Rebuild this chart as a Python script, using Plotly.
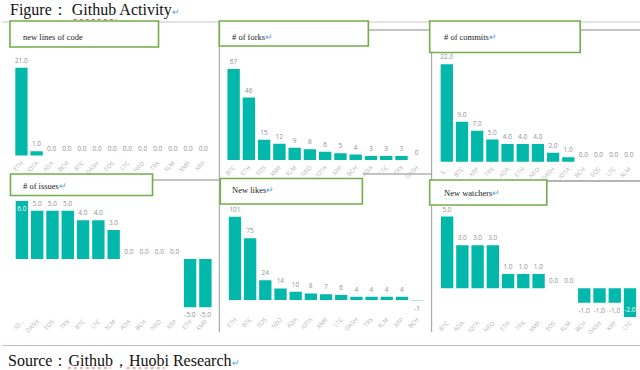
import plotly.graph_objects as go

W, H = 640, 370

# ---------------- data ----------------
code_cats = ["ETH", "IOTA", "ADA", "BCH", "BTC", "DASH", "EOS", "LTC", "NEO", "TRX", "XLM", "XMR", "XRP"]
code_vals = [21, 1, 0, 0, 0, 0, 0, 0, 0, 0, 0, 0, 0]

forks_cats = ["BTC", "ETH", "EOS", "XMR", "XLM", "NEO", "IOTA", "XRP", "BCH", "ADA", "LTC", "TRX", "DASH"]
forks_vals = [67, 46, 15, 12, 9, 8, 6, 5, 4, 3, 3, 3, 0]

commits_cats = ["S...", "BTC", "XRP", "TRX", "ADA", "ETH", "NEO", "DASH", "IOTA", "BCH", "EOS", "LTC", "XLM"]
commits_vals = [22, 9, 7, 5, 4, 4, 4, 2, 1, 0, 0, 0, 0]

issues_cats = ["IO...", "DASH", "EOS", "TRX", "BTC", "LTC", "XLM", "ADA", "BCH", "NEO", "XRP", "ETH", "XMR"]
issues_vals = [6, 5, 5, 5, 4, 4, 3, 0, 0, 0, 0, -5, -5]

likes_cats = ["ETH", "BTC", "EOS", "NEO", "ADA", "IOTA", "XMR", "LTC", "DASH", "TRX", "XLM", "XRP", "BCH"]
likes_vals = [101, 75, 24, 14, 10, 8, 7, 6, 4, 4, 4, 4, -1]

watch_cats = ["BTC", "ADA", "IOTA", "NEO", "ETH", "TRX", "XMR", "EOS", "XLM", "BCH", "DASH", "XRP", "LTC"]
watch_vals = [5, 3, 3, 3, 1, 1, 1, 0, 0, -1, -1, -1, -2]

panel_titles = ["new lines of code", "# of forks", "# of commits",
                "# of issues", "New likes", "New watchers"]

# ---------------- helpers ----------------
def fx(x):
    return x / W

def fy(y):
    return 1 - y / H

TEAL = "#01B8AA"
LIGHT = "#A8E6E0"
GREEN = "#72AE48"
GRAY_LINE = "#9a9a9a"
BLUE = "#5B9BD5"

# pixel layout for each panel: x-left, x-right, zero-line y, px per unit, top y, bottom y
panels = [
    dict(cats=code_cats, vals=code_vals, dec=1, x0=11.9, x1=209.6, zero=155.5, scale=87.8 / 21, top=60, bot=157.5),
    dict(cats=forks_cats, vals=forks_vals, dec=0, x0=224.7, x1=423.7, zero=160, scale=91 / 67, top=60, bot=162),
    dict(cats=commits_cats, vals=commits_vals, dec=1, x0=438.6, x1=636.6, zero=161.7, scale=97.4 / 22, top=58, bot=163.5),
    dict(cats=issues_cats, vals=issues_vals, dec=1, x0=12.3, x1=211.7, zero=259, scale=58 / 6, top=196, bot=316),
    dict(cats=likes_cats, vals=likes_vals, dec=0, x0=226.1, x1=424.0, zero=300, scale=83.3 / 101, top=205, bot=314),
    dict(cats=watch_cats, vals=watch_vals, dec=1, x0=438.9, x1=637.6, zero=288.3, scale=71.7 / 5, top=206, bot=317.5),
]

fig = go.Figure()
layout_axes = {}

for i, p in enumerate(panels):
    n = i + 1
    xa = "x" if n == 1 else f"x{n}"
    ya = "y" if n == 1 else f"y{n}"
    texts = [f"{v:.{p['dec']}f}" for v in p["vals"]]
    positions = []
    colors = []
    for j, v in enumerate(p["vals"]):
        if (n == 4 and j == 0) or (n == 6 and v == min(p["vals"])):
            positions.append("inside")
        else:
            positions.append("outside")
        colors.append(LIGHT if (n == 5 and v < 0) else TEAL)
    fig.add_trace(go.Bar(
        x=p["cats"], y=p["vals"], xaxis=xa, yaxis=ya,
        marker=dict(color=colors, line=dict(width=0)),
        text=texts, textposition=positions,
        insidetextanchor="end",
        constraintext="none",
        textangle=0,
        outsidetextfont=dict(size=6.5, color="#909090", family="Open Sans"),
        insidetextfont=dict(size=6.5, color="white", family="Open Sans"),
        cliponaxis=False, showlegend=False, hoverinfo="skip",
    ))
    rmax = (p["zero"] - p["top"]) / p["scale"]
    rmin = -(p["bot"] - p["zero"]) / p["scale"]
    key_x = "xaxis" if n == 1 else f"xaxis{n}"
    key_y = "yaxis" if n == 1 else f"yaxis{n}"
    layout_axes[key_x] = dict(
        domain=[fx(p["x0"]), fx(p["x1"])], anchor=ya,
        type="category", tickangle=-45, showgrid=False, showline=False,
        zeroline=False, ticks="", tickfont=dict(size=6, color="#b4b4b4", family="Open Sans"),
        fixedrange=True,
    )
    layout_axes[key_y] = dict(
        domain=[fy(p["bot"]), fy(p["top"])], anchor=xa,
        range=[rmin, rmax], visible=False, fixedrange=True,
    )

fig.update_layout(**layout_axes)
fig.update_layout(bargap=0.19)

shapes = []

def hline(x0, x1, y, color=GRAY_LINE, width=1):
    shapes.append(dict(type="line", xref="paper", yref="paper", x0=fx(x0), x1=fx(x1),
                       y0=fy(y), y1=fy(y), line=dict(color=color, width=width), layer="below"))

def vline(x, y0, y1, color=GRAY_LINE, width=1):
    shapes.append(dict(type="line", xref="paper", yref="paper", x0=fx(x), x1=fx(x),
                       y0=fy(y0), y1=fy(y1), line=dict(color=color, width=width), layer="below"))

# document frame lines
hline(0, 640, 22, "#c8c8c8")
hline(368, 640, 30, "#8a8a8a")
hline(151, 218, 180, "#8a8a8a")
hline(362, 431, 174, "#8a8a8a")
hline(431, 640, 181, "#6a6a6a")
vline(218, 22, 332, "#9a9a9a")
vline(431, 30, 332, "#9a9a9a")
hline(0, 640, 345.5, "#b9bedb")

# title boxes
boxes = [
    (8, 157, 21, 47, 19, 36.5, False),
    (218, 367.5, 21, 46, 229, 36.5, True),
    (429, 580, 21, 52.5, 441, 36.5, True),
    (8.5, 151, 174, 195.5, 19, 186, True),
    (219, 361.5, 178.5, 204, 229, 190.5, True),
    (429, 546.5, 180, 205, 441, 192.5, True),
]
annotations = []
for (bx0, bx1, by0, by1, tx, ty, arrow), title in zip(boxes, panel_titles):
    shapes.append(dict(type="rect", xref="paper", yref="paper", x0=fx(bx0), x1=fx(bx1),
                       y0=fy(by1), y1=fy(by0), line=dict(color=GREEN, width=1.6),
                       fillcolor="white", layer="above"))
    t = title + (f"<span style='color:{BLUE}'>↵</span>" if arrow else "")
    annotations.append(dict(xref="paper", yref="paper", x=fx(tx), y=fy(ty), text=t,
                            showarrow=False, xanchor="left", yanchor="middle",
                            font=dict(family="Liberation Serif", size=8.5, color="#222")))

# figure caption and source
annotations.append(dict(xref="paper", yref="paper", x=fx(6), y=fy(10), showarrow=False,
                        xanchor="left", yanchor="middle",
                        text=f"Figure： Github Activity<span style='color:{BLUE};font-size:9px'>↵</span>",
                        font=dict(family="Liberation Serif", size=16, color="#111")))
annotations.append(dict(xref="paper", yref="paper", x=fx(4), y=fy(360), showarrow=False,
                        xanchor="left", yanchor="middle",
                        text=f"Source：Github，Huobi Research<span style='color:{BLUE};font-size:9px'>↵</span>",
                        font=dict(family="Liberation Serif", size=16, color="#111")))

# spell-check squiggles
for (sx0, sx1, sy) in [(72, 115, 19.5), (66, 109, 368), (125, 163, 368)]:
    shapes.append(dict(type="line", xref="paper", yref="paper", x0=fx(sx0), x1=fx(sx1),
                       y0=fy(sy), y1=fy(sy), line=dict(color="#e06060", width=1, dash="dot"),
                       layer="above"))

fig.update_layout(
    width=W, height=H,
    margin=dict(l=0, r=0, t=0, b=0),
    paper_bgcolor="white", plot_bgcolor="white",
    shapes=shapes, annotations=annotations,
)

fig.write_html("out.html", config={"displayModeBar": False},
               post_script="document.body.style.margin='0px';document.body.style.overflow='hidden';")
